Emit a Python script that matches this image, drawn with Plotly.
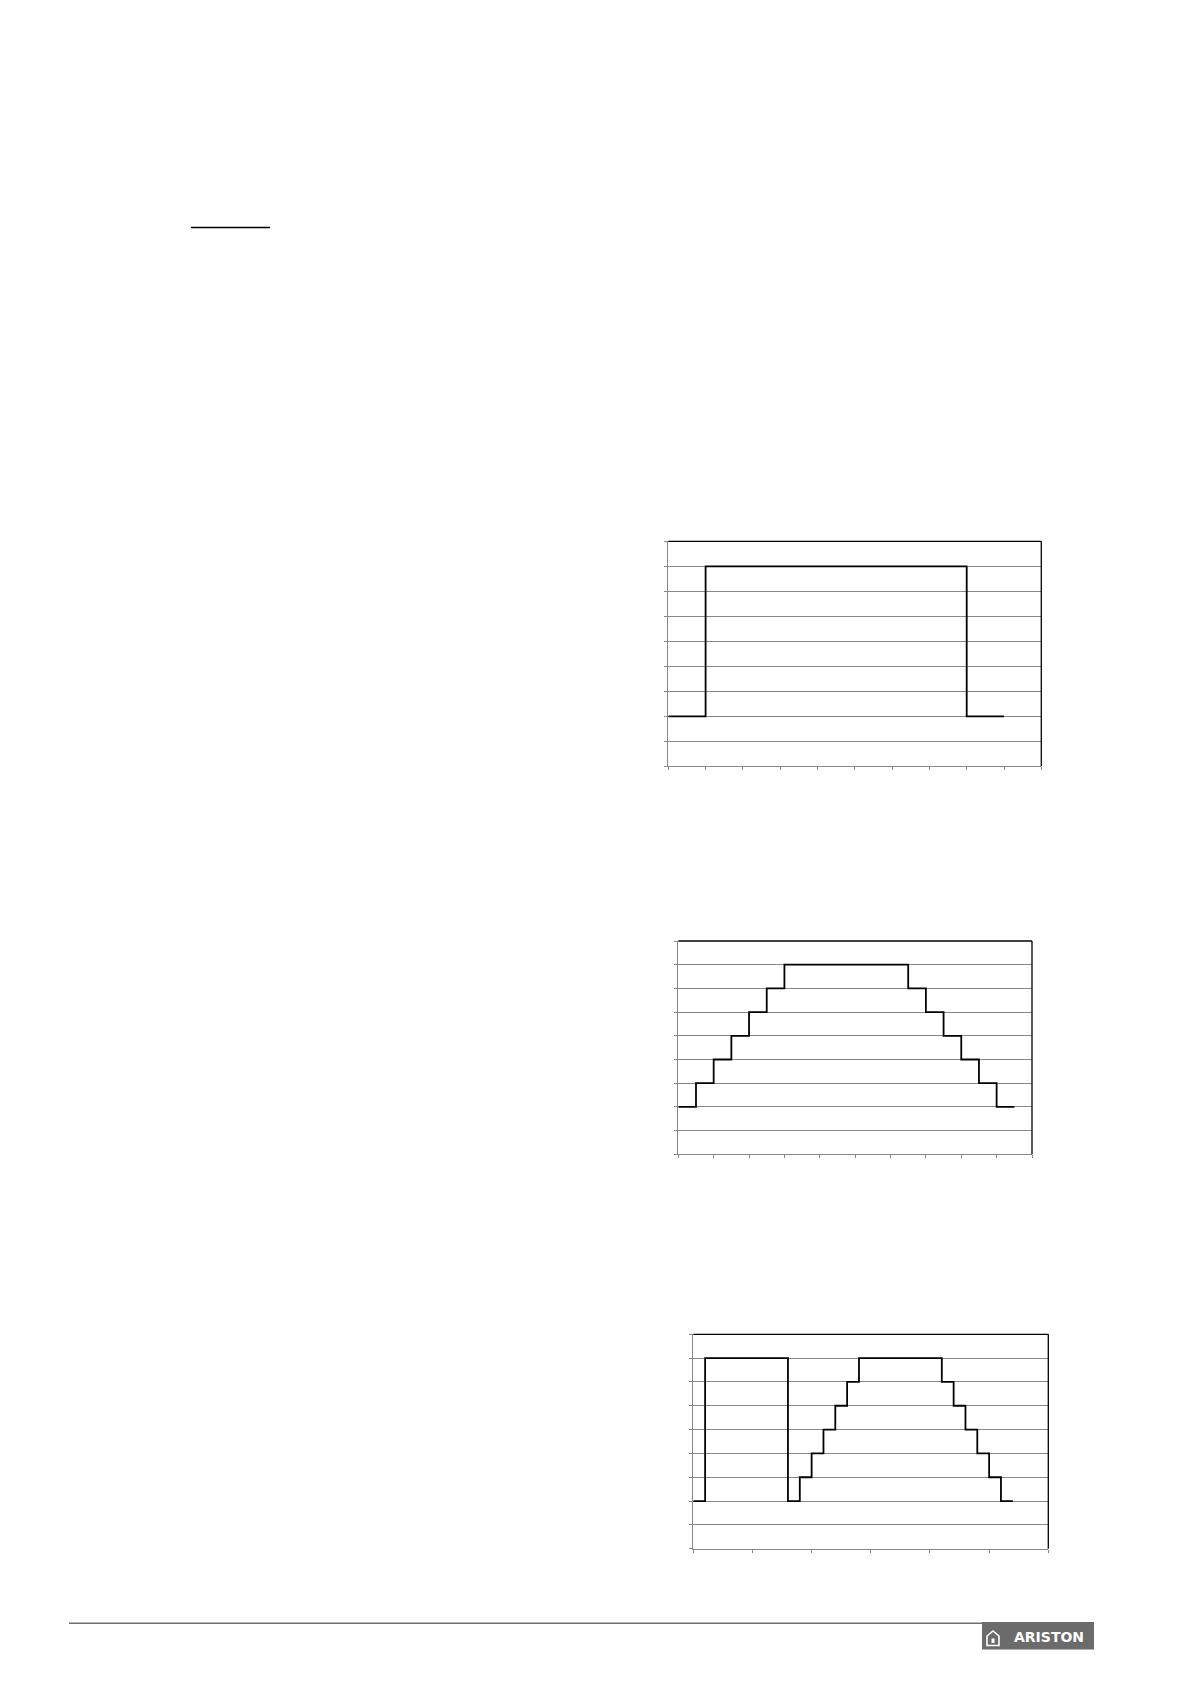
import plotly.graph_objects as go

PAGE_MARGIN = 8  # default body margin of the html page
W, H = 1190 - 2 * PAGE_MARGIN, 1684 - 2 * PAGE_MARGIN

# Chart 1: single block
c1_x = [0, 1, 8, 9]
c1_y = [2, 8, 2, 2]
# Chart 2: staircase up / down
c2_x = [0, 1, 2, 3, 4, 5, 6, 13, 14, 15, 16, 17, 18, 19]
c2_y = [2, 3, 4, 5, 6, 7, 8, 7, 6, 5, 4, 3, 2, 2]
# Chart 3: block then staircase
c3_x = [0, 1, 8, 9, 10, 11, 12, 13, 14, 21, 22, 23, 24, 25, 26, 27]
c3_y = [2, 8, 2, 3, 4, 5, 6, 7, 8, 7, 6, 5, 4, 3, 2, 2]

x_ranges = [[0, 10], [0, 20], [0, 30]]
x_dticks = [1, 2, 5]
y_range = [0, 9]

# page-pixel boxes (left, right, top, bottom)
boxes = [
    (668.3, 1041.3, 541.3, 766.3),
    (678.3, 1032.0, 941.0, 1154.3),
    (693.3, 1048.3, 1334.3, 1548.7),
]

def px(x):
    return (x - PAGE_MARGIN) / W

def py(y):
    return 1 - (y - PAGE_MARGIN) / H

fig = go.Figure()
series = [(c1_x, c1_y), (c2_x, c2_y), (c3_x, c3_y)]
GRAY = "#888888"
shapes = []
for i, ((xs, ys), (l, r, t, b)) in enumerate(zip(series, boxes)):
    n = "" if i == 0 else str(i + 1)
    fig.add_trace(go.Scatter(
        x=xs, y=ys, mode="lines", line=dict(color="black", width=1.8, shape="hv"),
        xaxis="x" + n, yaxis="y" + n, showlegend=False, hoverinfo="skip"))
    fig.layout["xaxis" + n] = dict(
        domain=[px(l), px(r)], range=x_ranges[i], dtick=x_dticks[i], tick0=0,
        showgrid=False, zeroline=False, showline=True, linecolor=GRAY, linewidth=1,
        ticks="outside", ticklen=3, tickcolor=GRAY, showticklabels=False,
        anchor="y" + n, fixedrange=True)
    fig.layout["yaxis" + n] = dict(
        domain=[py(b), py(t)], range=y_range, dtick=1, tick0=0,
        showgrid=True, gridcolor=GRAY, gridwidth=1, zeroline=False,
        showline=True, linecolor=GRAY, linewidth=1,
        ticks="outside", ticklen=3, tickcolor=GRAY, showticklabels=False,
        anchor="x" + n, fixedrange=True)
    # black top and right borders
    shapes.append(dict(type="line", xref="paper", yref="paper",
                       x0=px(l), x1=px(r), y0=py(t), y1=py(t),
                       line=dict(color="black", width=1.3)))
    shapes.append(dict(type="line", xref="paper", yref="paper",
                       x0=px(r), x1=px(r), y0=py(t), y1=py(b),
                       line=dict(color="black", width=1.3)))

# top-left underline
shapes.append(dict(type="line", xref="paper", yref="paper",
                   x0=px(191), x1=px(270), y0=py(227.5), y1=py(227.5),
                   line=dict(color="black", width=1.5)))
# footer line
shapes.append(dict(type="line", xref="paper", yref="paper",
                   x0=px(69), x1=px(982), y0=py(1623.3), y1=py(1623.3),
                   line=dict(color="#6e6e6e", width=1.5)))
# logo box
shapes.append(dict(type="rect", xref="paper", yref="paper",
                   x0=px(982), x1=px(1094), y0=py(1649.5), y1=py(1622),
                   fillcolor="#6b6b6b", line=dict(width=0)))
# house icon
hx0, hx1, hy0, hy1 = 987, 999, 1631, 1645.5
hm = (hx0 + hx1) / 2
path = (f"M {px(hx0)} {py(hy1)} L {px(hx0)} {py(1636)} L {px(hm)} {py(hy0)} "
        f"L {px(hx1)} {py(1636)} L {px(hx1)} {py(hy1)} Z")
shapes.append(dict(type="path", xref="paper", yref="paper", path=path,
                   line=dict(color="white", width=1.6), fillcolor="#6b6b6b"))
shapes.append(dict(type="rect", xref="paper", yref="paper",
                   x0=px(991.5), x1=px(994.5), y0=py(1643), y1=py(1638.5),
                   fillcolor="white", line=dict(width=0)))

fig.update_layout(
    width=W, height=H, margin=dict(l=0, r=0, t=0, b=0),
    paper_bgcolor="white", plot_bgcolor="white",
    shapes=shapes, showlegend=False,
    annotations=[dict(text="<b>ARISTON</b>", xref="paper", yref="paper",
                      x=px(1048.5), y=py(1637), xanchor="center", yanchor="middle",
                      showarrow=False,
                      font=dict(family="DejaVu Sans", size=14, color="white"))],
)

fig.write_html("out.html")
